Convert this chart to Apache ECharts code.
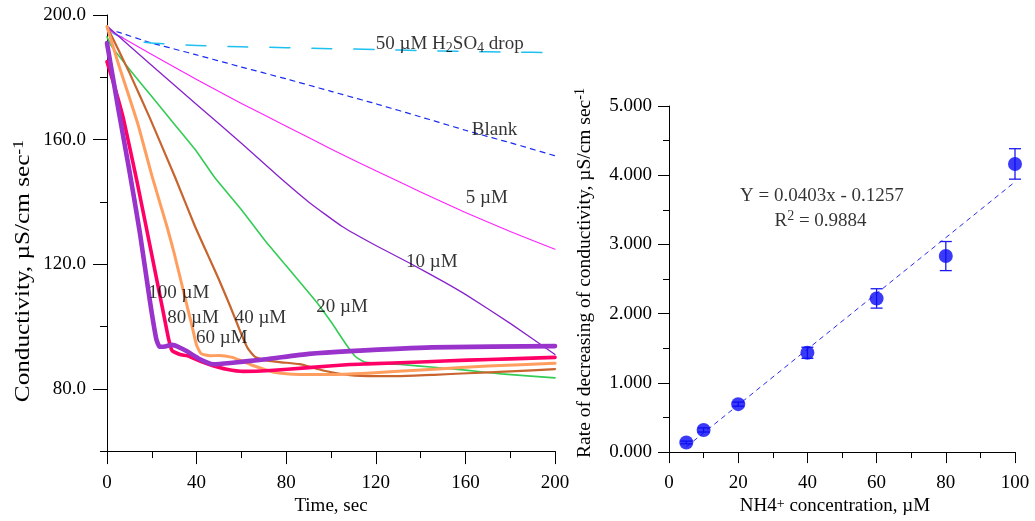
<!DOCTYPE html>
<html><head><meta charset="utf-8">
<script src="https://cdn.jsdelivr.net/npm/echarts@6/dist/echarts.min.js"></script>
<style>html,body{margin:0;padding:0;background:#fff}#c{width:1035px;height:521px}</style>
</head><body><div id="c"></div><script>
const FONT = '"Liberation Serif","Times New Roman",serif';
const FS = 19;

// ---------- Left panel: conductivity vs time ----------
const tH2SO4 = [0,3,10,20,40,60,80,100,120,140,160,180,200];
const vH2SO4 = [196.5,194,192,191,190.2,189.8,189.5,189.2,188.9,188.6,188.3,188.1,187.9];
const tBlank = [0,5,20,40,60,80,100,120,140,160,180,200];
const vBlank = [195.5,194.5,191,187.2,183.3,179.5,175.5,171.5,167.3,163,159,154.8];
const t5 = [0,20,40,60,80,100,120,140,160,180,200];
const v5 = [195.5,187.3,179.3,171.6,164.3,157,150,143.2,136.6,130.5,124.8];
const t10 = [0,20,40,60,77,90,105,120,135,150,160,180,200];
const v10 = [196.5,183.8,171.3,158.8,147.9,140,132.1,126,120.4,114.5,110.3,101,91];
const t20 = [0,2,10,20,30,40,48,60,71.5,80,93.6,100,107,111,115,120,131,146,160,176,200];
const v20 = [193,190,182.6,173.8,165,156.2,147.9,137.5,126.7,119.5,107.8,101.5,94,90.3,88.6,88.2,87.8,86.9,86,84.8,83.5];
const t40 = [0,10,19.2,30.4,39.3,45,50,55,60,63,66,70,78,86,97,108.5,120,131,146,161,180,200];
const v40 = [196.3,181.5,166.8,147.9,132.1,123,115,106.5,97.5,92.8,90.3,89.2,88.5,87.9,85.8,84.4,84.1,84.1,84.5,85,85.6,86.3];
const t60 = [0,5,10,14,20,26.6,30,35.6,38,40,42,46,50,56,60,64,70,74,80,86,100,116,130,146,170,200];
const v60 = [196.3,184.5,173.5,164.5,148.5,132.5,123.5,107,100,94,91.3,90.6,90.7,90.1,89,87.8,86.3,85.4,84.8,84.6,84.6,85,85.6,86.3,87.3,88.2];
const t80 = [0,3,7.3,13.4,20,25,27.5,29,32.6,36,41.5,47,53.4,60.8,71.3,90,108.5,116,140,161,180,200];
const v80 = [185,178,166.8,146.5,123,105,96,92.3,91,90.6,88.9,87.5,86.3,85.6,85.8,86.8,87.8,88,88.6,89.2,89.6,90.1];
const t100 = [0,5,10,14.7,19.2,22,23.5,26,29,32,35.5,41.5,47.5,55,71,90,108.5,145,200];
const v100 = [191,170,150,130,108,96,93.5,93.6,94.1,93.4,92.1,89.5,87.9,88.3,89.5,91.2,92.1,93.3,93.7];

const curveLabels = ['50 µM H{sub|2}SO{sub|4} drop','Blank','5 µM','10 µM','20 µM','40 µM','60 µM','80 µM','100 µM'];
const curveLabelT = [153,173,169.6,145,104.9,68.5,51.3,38.4,32.1];
const curveLabelV = [190.8,163.2,141.1,120.6,106.4,102.6,96.3,102.6,110.8];

// ---------- Right panel: rate vs NH4+ concentration ----------
const conc = [5,10,20,40,60,80,100];
const rate = [0.139,0.32,0.693,1.435,2.22,2.832,4.163];
const rateErr = [0.02,0.03,0.03,0.08,0.14,0.21,0.22];
const fitX = [5,100];
const fitY = [0.076,3.904];
const annText = ['Y = 0.0403x - 0.1257','R{sup|2} = 0.9884'];
const annX = [44.2,43.8];
const annY = [3.70,3.34];

const zip = (a,b) => a.map((x,i)=>[x,b[i]]);
const rich = {
  sub:{fontFamily:FONT,fontSize:14,lineHeight:12,verticalAlign:'bottom',color:'#000'},
  sup:{fontFamily:FONT,fontSize:14,lineHeight:12,verticalAlign:'top',color:'#000'}
};
const richBig = {
  sup:{fontFamily:FONT,fontSize:14.5,lineHeight:12,verticalAlign:'top',fill:'#000'}
};
const txt = {fontFamily:FONT,fontSize:FS,color:'#000'};

function lineS(name,t,v,color,width,dash){
  return {type:'line',name,xAxisIndex:0,yAxisIndex:0,data:zip(t,v),showSymbol:false,symbol:'none',
    smooth:0.15,
    lineStyle:{color,width,type:dash||'solid',cap:'round',join:'round'},z:2};
}

const axCommon = {
  axisLine:{show:true,lineStyle:{color:'#000',width:1}},
  splitLine:{show:false},
  axisLabel:{...txt},
};

const option = {
  animation:false,
  backgroundColor:'#fff',
  grid:[
    {left:107,top:15,width:448,height:443},
    {left:669,top:106,width:346,height:348}
  ],
  xAxis:[
    {...axCommon,gridIndex:0,type:'value',min:0,max:200,interval:40,
      axisTick:{show:true,length:13,lineStyle:{color:'#000'}},
      minorTick:{show:true,splitNumber:2,length:7,lineStyle:{color:'#000'}},
      axisLabel:{...txt,margin:22},
      name:'Time, sec',nameLocation:'middle',nameGap:41,nameTextStyle:{...txt}},
    {...axCommon,gridIndex:1,type:'value',min:0,max:100,interval:20,
      axisTick:{show:true,length:11,lineStyle:{color:'#000'}},
      minorTick:{show:true,splitNumber:2,length:6,lineStyle:{color:'#000'}},
      axisLabel:{...txt,margin:21},
      name:'NH4{sup|+} concentration, µM',nameLocation:'middle',nameGap:43,
      nameTextStyle:{...txt,rich:rich,padding:[0,14,0,0]}}
  ],
  yAxis:[
    {...axCommon,gridIndex:0,type:'value',min:60,max:200,interval:20,
      axisTick:{show:true,length:7,lineStyle:{color:'#000'}},
      axisLabel:{...txt,margin:21,formatter:v=>(v>=80 && v%40===0)?v.toFixed(1):''}},
    {gridIndex:0,type:'value',min:60,max:200,position:'left',
      axisLine:{show:false},splitLine:{show:false},axisLabel:{show:false},
      axisTick:{show:true,length:14,customValues:[80,120,160,200],lineStyle:{color:'#000'}}},
    {...axCommon,gridIndex:1,type:'value',min:0,max:5,interval:1,
      axisTick:{show:true,length:11,lineStyle:{color:'#000'}},
      minorTick:{show:true,splitNumber:2,length:6,lineStyle:{color:'#000'}},
      axisLabel:{...txt,margin:17,formatter:v=>v.toFixed(3)}}
  ],
  graphic:[
    {type:'text',x:24,y:271,rotation:Math.PI/2,scaleX:1.23,
      style:{text:'Conductivity, µS/cm sec{sup|-1}',fontFamily:FONT,fontSize:20.5,fill:'#000',
        align:'center',verticalAlign:'middle',lineHeight:25,rich:richBig}},
    {type:'text',x:585,y:273,rotation:Math.PI/2,
      style:{text:'Rate of decreasing of conductivity, µS/cm sec{sup|-1}',fontFamily:FONT,fontSize:19.5,fill:'#000',
        align:'center',verticalAlign:'middle',lineHeight:24,rich:rich}}
  ],
  series:[
    lineS('Blank',tBlank,vBlank,'#1a2cf0',1.2,[5,5]),
    lineS('H2SO4',tH2SO4,vH2SO4,'#1ec0f0',1.5,[20,22]),
    lineS('5 µM',t5,v5,'#ff22ff',1.1),
    lineS('10 µM',t10,v10,'#8822cc',1.3),
    lineS('20 µM',t20,v20,'#33cc55',1.6),
    lineS('40 µM',t40,v40,'#c8642d',2.2),
    lineS('60 µM',t60,v60,'#ff9e5e',3),
    lineS('80 µM',t80,v80,'#ff0066',3.6),
    lineS('100 µM',t100,v100,'#9933cc',4.6),
    {type:'scatter',xAxisIndex:0,yAxisIndex:0,symbolSize:1,itemStyle:{color:'rgba(0,0,0,0)'},z:5,
      data:curveLabels.map((s,i)=>({name:s,value:[curveLabelT[i],curveLabelV[i]]})),
      label:{show:true,position:'inside',formatter:p=>p.name,...txt,lineHeight:24,rich:rich},
      silent:true},
    // right panel
    {type:'line',xAxisIndex:1,yAxisIndex:2,data:zip(fitX,fitY),symbol:'none',
      lineStyle:{color:'#2a2af0',width:1,type:[5,4]},z:2},
    {type:'custom',xAxisIndex:1,yAxisIndex:2,z:3,
      data:conc.map((c,i)=>[c,rate[i]-rateErr[i],rate[i]+rateErr[i]]),
      encode:{x:0,y:[1,2]},
      renderItem:(params,api)=>{
        const x=api.value(0),lo=api.value(1),hi=api.value(2);
        const a=api.coord([x,lo]),b=api.coord([x,hi]);const w=6;
        const st={stroke:'#1a1af0',lineWidth:1.3};
        return {type:'group',children:[
          {type:'line',shape:{x1:a[0],y1:a[1],x2:b[0],y2:b[1]},style:st},
          {type:'line',shape:{x1:a[0]-w,y1:a[1],x2:a[0]+w,y2:a[1]},style:st},
          {type:'line',shape:{x1:b[0]-w,y1:b[1],x2:b[0]+w,y2:b[1]},style:st}
        ]};
      }},
    {type:'scatter',xAxisIndex:1,yAxisIndex:2,data:zip(conc,rate),symbol:'circle',symbolSize:14,
      itemStyle:{color:'#0a0af5'},z:4},
    {type:'scatter',xAxisIndex:1,yAxisIndex:2,symbolSize:1,itemStyle:{color:'rgba(0,0,0,0)'},z:5,
      data:annText.map((s,i)=>({name:s,value:[annX[i],annY[i]]})),
      label:{show:true,position:'inside',formatter:p=>p.name,...txt,lineHeight:24,rich:rich},
      silent:true}
  ]
};
const chart = echarts.init(document.getElementById('c'),null,{renderer:'canvas'});
chart.setOption(option);
</script></body></html>
